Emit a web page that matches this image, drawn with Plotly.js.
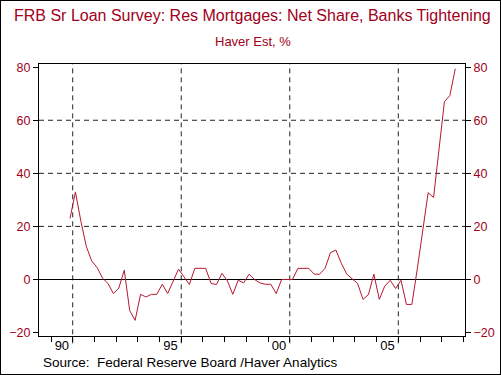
<!DOCTYPE html>
<html>
<head>
<meta charset="utf-8">
<script src="https://cdn.plot.ly/plotly-3.0.1.min.js"></script>
<style>
  html, body { margin: 0; padding: 0; background: #fff; }
  #wrap { position: relative; width: 501px; height: 375px; }
  #chart { width: 501px; height: 375px; }
  #frame { position: absolute; left: 0; top: 0; width: 501px; height: 375px; box-sizing: border-box; border: 1px solid #000; pointer-events: none; }
</style>
</head>
<body>
<div id="wrap"><div id="chart"></div><div id="frame"></div></div>
<script>
// Quarterly periods (mid-quarter, decimal years) 1990Q4 .. 2008Q3
const quarters = [
  '1990Q4',
  '1991Q1','1991Q2','1991Q3','1991Q4',
  '1992Q1','1992Q2','1992Q3','1992Q4',
  '1993Q1','1993Q2','1993Q3','1993Q4',
  '1994Q1','1994Q2','1994Q3','1994Q4',
  '1995Q1','1995Q2','1995Q3','1995Q4',
  '1996Q1','1996Q2','1996Q3','1996Q4',
  '1997Q1','1997Q2','1997Q3','1997Q4',
  '1998Q1','1998Q2','1998Q3','1998Q4',
  '1999Q1','1999Q2','1999Q3','1999Q4',
  '2000Q1','2000Q2','2000Q3','2000Q4',
  '2001Q1','2001Q2','2001Q3','2001Q4',
  '2002Q1','2002Q2','2002Q3','2002Q4',
  '2003Q1','2003Q2','2003Q3','2003Q4',
  '2004Q1','2004Q2','2004Q3','2004Q4',
  '2005Q1','2005Q2','2005Q3','2005Q4',
  '2006Q1','2006Q2','2006Q3','2006Q4',
  '2007Q1','2007Q2','2007Q3','2007Q4',
  '2008Q1','2008Q2','2008Q3'
];
const netTightening = [
  23,
  33, 22, 12.5, 7,
  4.5, 0.5, -1.5, -5.3,
  -3.2, 3.5, -11.7, -15.4,
  -5.6, -6.6, -5.6, -5.6,
  -1.8, -5.3, -0.5, 3.9,
  1.0, -1.9, 4.2, 4.2,
  4.2, -1.5, -1.9, 2.3,
  -0.5, -5.6, -0.3, -1.3,
  2.0, 0, -1.3, -1.8,
  -1.8, -5.3, 0, 0,
  0, 4.2, 4.2, 4.2,
  2.0, 2.0, 4.2, 10.1,
  11.1, 6.1, 2.0, 0.4,
  -1.5, -7.5, -5.7, 2.0,
  -7.5, -2.5, -0.3, -3.4,
  -0.3, -9.4, -9.4, 4,
  18, 32.7, 30.9, 49,
  67, 69.3, 79.4
];
const yTicks = [-20, 0, 20, 40, 60, 80];
const yGrid = [20, 40, 60];
const yearTicks = [1990,1991,1992,1993,1994,1995,1996,1997,1998,1999,2000,2001,2002,2003,2004,2005,2006,2007,2008,2009];
const yearLabels = ['90', '95', '00', '05'];
const yearLabelPos = [1990.5, 1995.5, 2000.5, 2005.5];
const xGrid = [1991, 1996, 2001, 2006];

function qToYear(q) {
  const y = parseInt(q.slice(0, 4), 10);
  const n = parseInt(q.slice(5), 10);
  return y + (n - 1) * 0.25 + 0.125;
}
const xVals = quarters.map(qToYear);

const RED = '#a00020';
const FONT = 'Liberation Sans, Arial, sans-serif';
const xRange = [1989.447, 2009.073];
const yRange = [-21.3, 81.2];

const shapes = [];
yGrid.forEach(v => shapes.push({
  type: 'line', xref: 'paper', x0: 0, x1: 1, yref: 'y', y0: v, y1: v,
  line: { color: '#222', width: 1, dash: '5px,4px' }, layer: 'below'
}));
xGrid.forEach(v => shapes.push({
  type: 'line', xref: 'x', x0: v, x1: v, yref: 'paper', y0: -0.027, y1: 1,
  line: { color: '#222', width: 1, dash: '5px,4px' }, layer: 'below'
}));

const trace = {
  x: xVals, y: netTightening, type: 'scatter', mode: 'lines',
  line: { color: '#b5182f', width: 1 }, hoverinfo: 'skip', showlegend: false
};
// Invisible trace so that the overlaid x2 / y2 axes (labels) are drawn
const helper = {
  x: [xRange[0]], y: [0], xaxis: 'x2', yaxis: 'y2', type: 'scatter', mode: 'none',
  hoverinfo: 'skip', showlegend: false
};

const layout = {
  width: 501, height: 375,
  margin: { l: 39, r: 36, t: 64, b: 39, pad: 0 },
  paper_bgcolor: '#fff', plot_bgcolor: '#fff',
  font: { family: FONT, size: 12, color: '#000' },
  showlegend: false,
  xaxis: {
    range: xRange, showgrid: false, zeroline: false,
    showline: true, linecolor: '#000', linewidth: 1, mirror: true,
    tickmode: 'array', tickvals: yearTicks, ticks: 'outside', ticklen: 5,
    tickcolor: '#000', tickwidth: 1, showticklabels: false, fixedrange: true
  },
  xaxis2: {
    overlaying: 'x', anchor: 'y2', side: 'bottom', range: xRange,
    showgrid: false, zeroline: false, showline: false,
    tickmode: 'array', tickvals: yearLabelPos, ticktext: yearLabels,
    ticks: '', ticklabelstandoff: 0, tickfont: { family: FONT, size: 13, color: '#000' }, fixedrange: true
  },
  yaxis: {
    range: yRange, showgrid: false,
    zeroline: true, zerolinecolor: '#000', zerolinewidth: 1,
    showline: true, linecolor: '#000', linewidth: 1, mirror: true,
    tickmode: 'array', tickvals: yTicks, ticks: 'outside', ticklen: 5,
    tickcolor: '#000', tickfont: { family: FONT, size: 12.5, color: RED }, fixedrange: true
  },
  yaxis2: {
    overlaying: 'y', side: 'right', anchor: 'x2', range: yRange,
    showgrid: false, zeroline: false, showline: false,
    tickmode: 'array', tickvals: yTicks, ticks: 'outside', ticklen: 5,
    tickcolor: '#000', tickfont: { family: FONT, size: 12.5, color: RED }, fixedrange: true
  },
  shapes: shapes,
  annotations: [
    { text: 'FRB Sr Loan Survey: Res Mortgages: Net Share, Banks Tightening',
      xref: 'paper', yref: 'paper', x: 0.502, y: 1.18, xanchor: 'center', yanchor: 'middle',
      showarrow: false, font: { family: FONT, size: 16, color: RED } },
    { text: 'Haver Est, %',
      xref: 'paper', yref: 'paper', x: 0.502, y: 1.081, xanchor: 'center', yanchor: 'middle',
      showarrow: false, font: { family: FONT, size: 13, color: RED } },
    { text: 'Source:&nbsp;&nbsp;Federal Reserve Board /Haver Analytics',
      xref: 'paper', yref: 'paper', x: 0.005, y: -0.097, xanchor: 'left', yanchor: 'middle',
      showarrow: false, font: { family: FONT, size: 13.5, color: '#000' } }
  ]
};

Plotly.newPlot('chart', [trace, helper], layout, { staticPlot: true, displayModeBar: false });
</script>
</body>
</html>
